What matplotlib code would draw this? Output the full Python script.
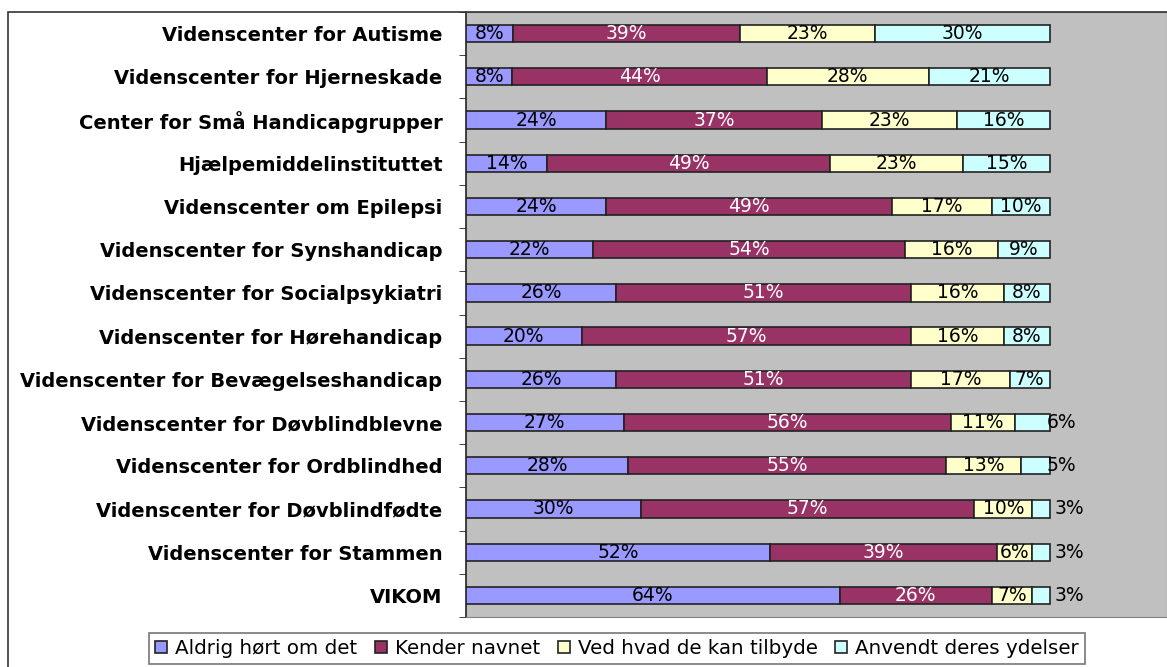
import matplotlib.pyplot as plt
from matplotlib.patches import Rectangle
import numpy as np

centers = ['Videnscenter for Autisme', 'Videnscenter for Hjerneskade',
           'Center for Små Handicapgrupper', 'Hjælpemiddelinstituttet',
           'Videnscenter om Epilepsi', 'Videnscenter for Synshandicap',
           'Videnscenter for Socialpsykiatri', 'Videnscenter for Hørehandicap',
           'Videnscenter for Bevægelseshandicap', 'Videnscenter for Døvblindblevne',
           'Videnscenter for Ordblindhed', 'Videnscenter for Døvblindfødte',
           'Videnscenter for Stammen', 'VIKOM']
series = ['Aldrig hørt om det', 'Kender navnet', 'Ved hvad de kan tilbyde',
          'Anvendt deres ydelser']
aldrig = [8, 8, 24, 14, 24, 22, 26, 20, 26, 27, 28, 30, 52, 64]
kender = [39, 44, 37, 49, 49, 54, 51, 57, 51, 56, 55, 57, 39, 26]
ved = [23, 28, 23, 23, 17, 16, 16, 16, 17, 11, 13, 10, 6, 7]
anvendt = [30, 21, 16, 15, 10, 9, 8, 8, 7, 6, 5, 3, 3, 3]

colors = ['#9999FF', '#993366', '#FFFFCC', '#CCFFFF']
text_colors = ['black', 'white', 'black', 'black']

plt.rcParams['font.family'] = 'DejaVu Sans'

fig = plt.figure(figsize=(11.67, 6.67), dpi=100)
W, H = 1167, 667

# outer chart frame
fig.patches.append(Rectangle((8 / W, -0.05), 1.1, (667 - 12) / H + 0.05,
                             transform=fig.transFigure, fill=False,
                             edgecolor='#333333', linewidth=1.2))

ax = fig.add_axes([466 / W, 50 / H, (W - 466) / W, (617 - 12) / H])
ax.set_facecolor('#C0C0C0')

data = np.array([aldrig, kender, ved, anvendt], dtype=float)
fracs = data / data.sum(axis=0)
y = np.arange(len(centers))
left = np.zeros(len(centers))
for i in range(4):
    ax.barh(y, fracs[i], left=left, height=0.4, color=colors[i],
            edgecolor='#222222', linewidth=1.2, label=series[i], zorder=3)
    for j in range(len(centers)):
        val = int(data[i, j])
        cx = left[j] + fracs[i, j] / 2
        if i == 3 and val <= 6:
            ax.text(1.0 + (0.008 if val <= 3 else -0.006), y[j], f'{val}%',
                    ha='left', va='center', fontsize=13.5, color='black', zorder=4)
        else:
            ax.text(cx, y[j], f'{val}%', ha='center', va='center',
                    fontsize=13.5, color=text_colors[i], zorder=4)
    left += fracs[i]

ax.set_xlim(0, (W - 466) / 584)
ax.set_ylim(len(centers) - 0.5, -0.5)
ax.set_yticks(y)
ax.set_yticklabels(centers, fontsize=14, fontweight='bold')
ax.set_yticks(np.arange(len(centers) + 1) - 0.5, minor=True)
ax.tick_params(axis='y', which='major', length=0, pad=17)
ax.tick_params(axis='y', which='minor', length=5, direction='out', color='#222222')
ax.set_xticks([])
for s in ['top', 'right', 'bottom']:
    ax.spines[s].set_color('#808080')
ax.spines['left'].set_color('#222222')
ax.spines['left'].set_linewidth(1.2)

leg = fig.legend(loc='upper left', bbox_to_anchor=(149 / W, (667 - 633) / H),
                 ncol=4, fontsize=14.3, frameon=True, fancybox=False,
                 edgecolor='#555555', handlelength=0.6, handleheight=0.6,
                 handletextpad=0.4, columnspacing=0.9, borderpad=0.3,
                 borderaxespad=0)
leg.get_frame().set_linewidth(1.2)

fig.savefig('out.png', dpi=100)
